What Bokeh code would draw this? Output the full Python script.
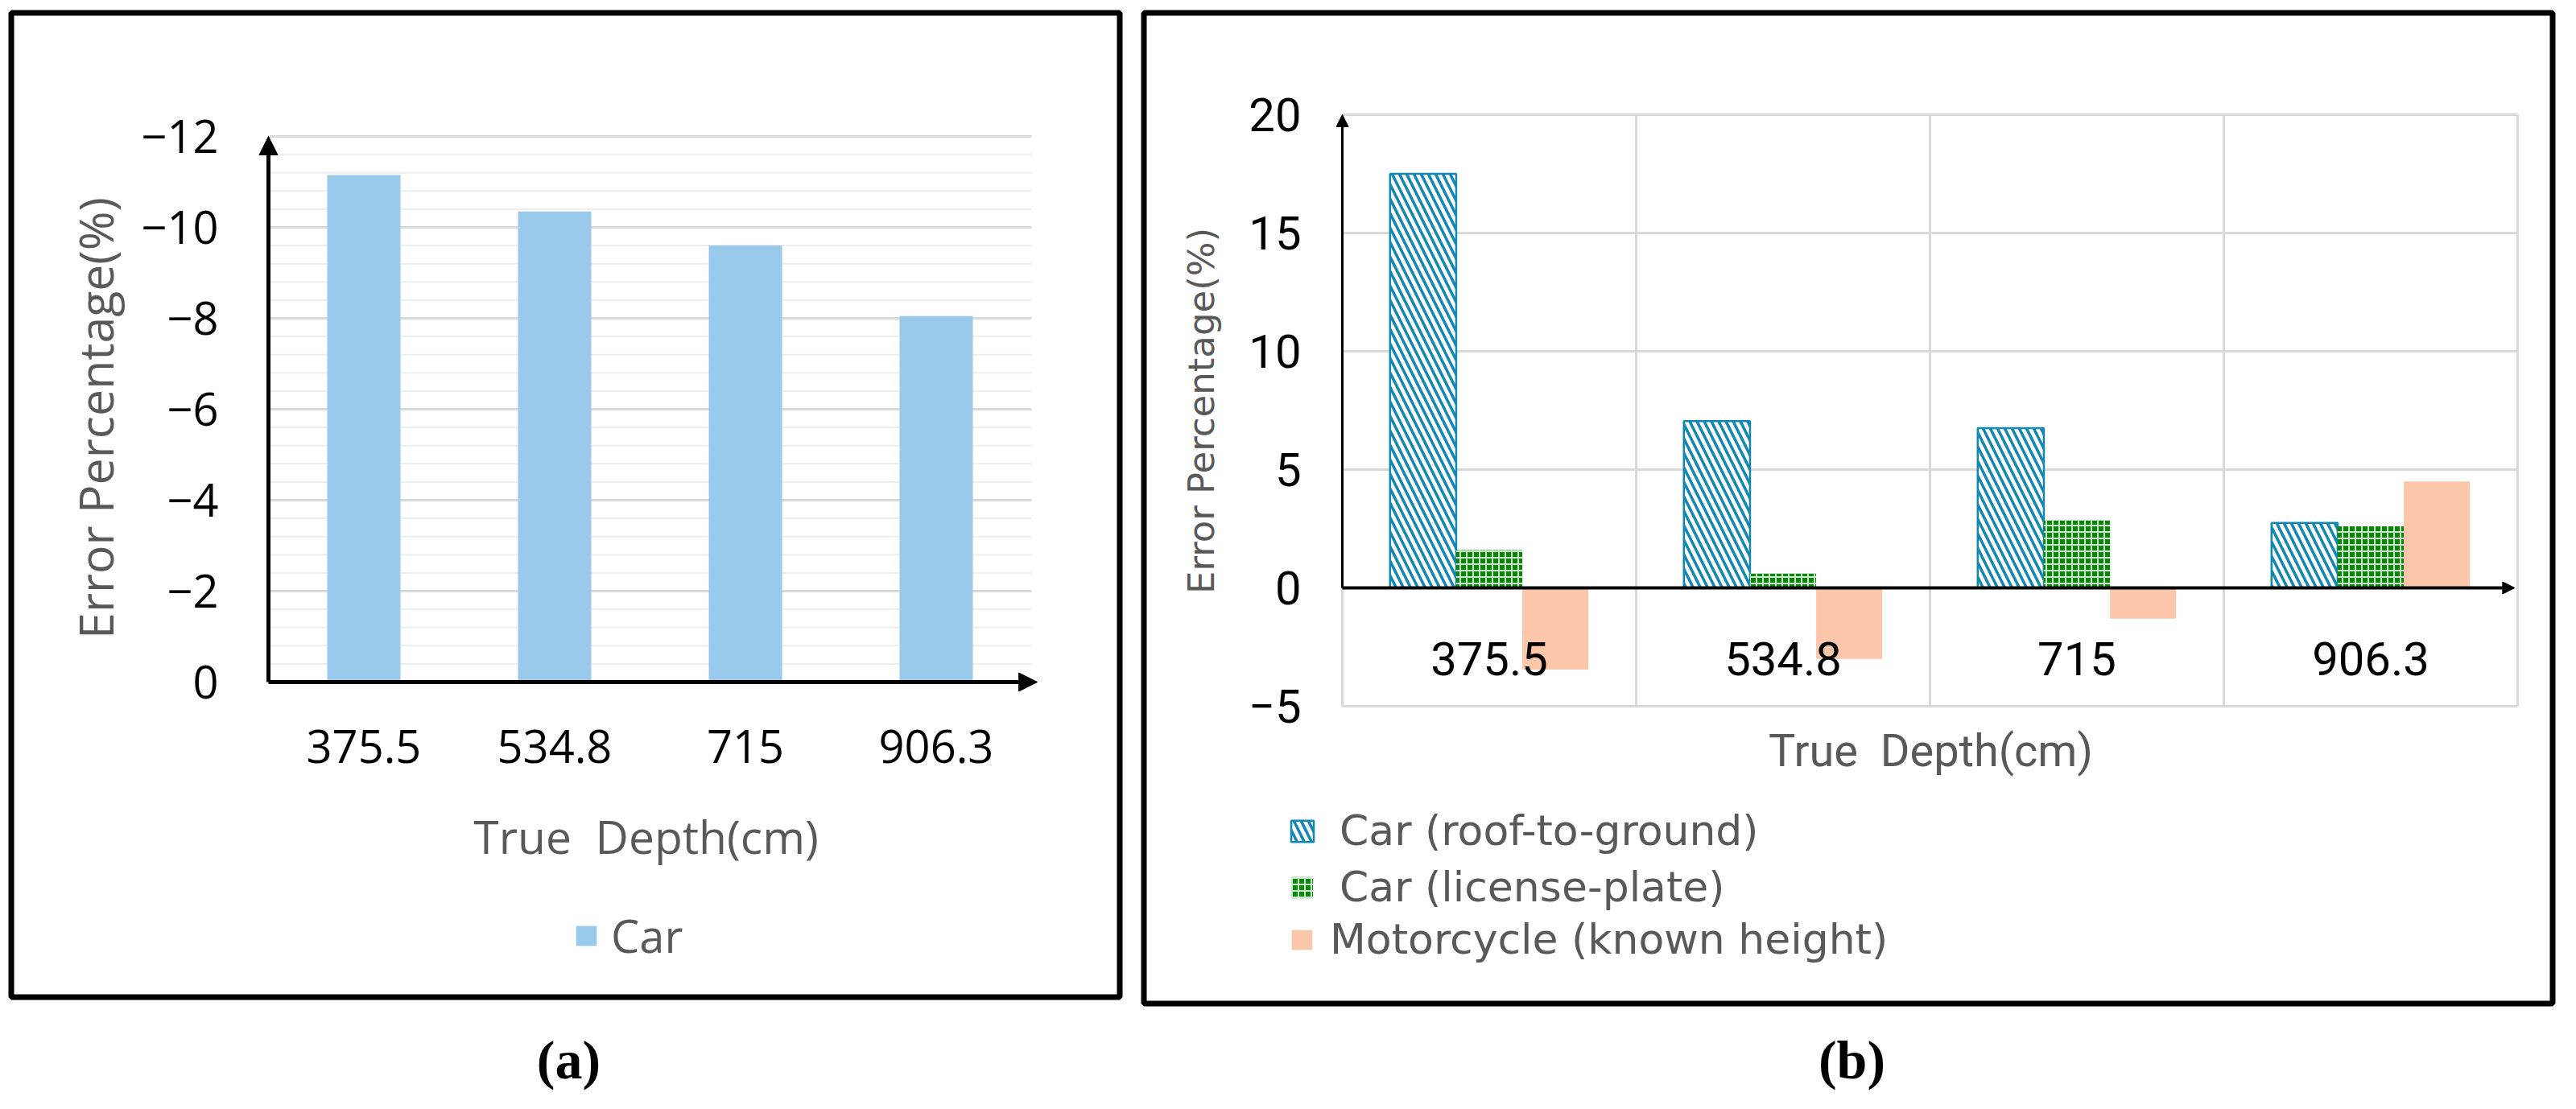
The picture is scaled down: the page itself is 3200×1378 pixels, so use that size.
import numpy as np
from bokeh.plotting import figure
from bokeh.models import (Range1d, LinearAxis, FixedTicker, Arrow, NormalHead,
                          Label, Legend, LegendItem, BoxAnnotation)
from bokeh.layouts import row
from bokeh.embed import file_html
from bokeh.resources import INLINE

# ---------------- data ----------------
depths = ["375.5", "534.8", "715", "906.3"]

# panel (a)
car_a = [-11.15, -10.35, -9.6, -8.05]
a_yticks = [0, -2, -4, -6, -8, -10, -12]

# panel (b)
roof = [17.5, 7.05, 6.75, 2.75]
plate = [1.6, 0.6, 2.85, 2.6]
moto = [-3.45, -3.0, -1.3, 4.5]
b_yticks = [-5, 0, 5, 10, 15, 20]
series_b = ["Car (roof-to-ground)", "Car (license-plate)", "Motorcycle (known height)"]

x_title = "True \u00a0Depth(cm)"
y_title = "Error Percentage(%)"

# ---------------- helpers ----------------
def minus(t):
    return ("\u2212" + str(abs(t))) if t < 0 else str(t)

FA = "Open Sans"
FB = "Roboto"
FW = "DejaVu Sans"
GRAY = "#595959"
GRID = "#D9D9D9"

xc = np.arange(len(depths)) + 0.5
n = len(depths)

TOP, BOT = 8, 1370            # page y of figure top / bottom
A_X0, A_X1 = 8, 1417          # page x of figure (a)
B_X0, B_X1 = 1417, 3192       # page x of figure (b)


def base_fig(x0, x1, xmap, ymap):
    p = figure(width=x1 - x0, height=BOT - TOP,
               x_range=Range1d(xmap(x0), xmap(x1)),
               y_range=Range1d(ymap(BOT), ymap(TOP)),
               output_backend="svg", toolbar_location=None,
               x_axis_location=None, y_axis_location=None,
               min_border_left=0, min_border_right=0,
               min_border_top=0, min_border_bottom=0)
    p.grid.visible = False
    p.outline_line_color = None
    p.background_fill_color = "white"
    p.border_fill_color = "white"
    return p


def screen_label(p, x0, px, py, text, font, size, color="black", angle=0.0,
                 style="normal"):
    p.add_layout(Label(x=px - x0, y=BOT - py, x_units="screen", y_units="screen",
                       text=text, angle=angle, text_align="center",
                       text_baseline="middle", text_font=font,
                       text_font_size=size, text_color=color,
                       text_font_style=style))


def legend_row(p, x0, renderer, label, gx, cy, gw, gh, standoff, font, size):
    h = 90
    p.add_layout(Legend(items=[LegendItem(label=label, renderers=[renderer])],
                        location=(gx - x0, BOT - (cy + h / 2)),
                        glyph_width=gw, glyph_height=gh, label_standoff=standoff,
                        label_height=h, spacing=0, padding=0, margin=0,
                        label_text_font=font, label_text_font_size=size,
                        label_text_color=GRAY, border_line_color=None,
                        background_fill_alpha=0))


def frame_box(p, xm, ym, l, r, t, b):
    p.add_layout(BoxAnnotation(left=xm(l), right=xm(r), top=ym(t), bottom=ym(b),
                               fill_color=None, fill_alpha=0,
                               line_color="black", line_alpha=1.0, line_width=7))


# ---------------- panel (a) ----------------
ax0, aband = 341.0, 237.0          # page x of category-0 edge, px per category
ay0, appu = 855.0, 56.5            # page y of value 0, px per unit (negative up)
axm = lambda px: (px - ax0) / aband
aym = lambda py: (py - ay0) / appu

pa = base_fig(A_X0, A_X1, axm, aym)
frame_box(pa, axm, aym, 21.5, 1398.5, 23.5, 1246.5)

amin = min(a_yticks)
step = abs(a_yticks[1] - a_yticks[0])
minor = [v for v in np.arange(amin, 0, step / 5.0)
         if abs(v / step - round(v / step)) > 1e-6]
pa.segment(x0=0, x1=n, y0=minor, y1=minor, line_color="#EEEEEE", line_width=2)
majors = [t for t in a_yticks if t != 0]
pa.segment(x0=0, x1=n, y0=majors, y1=majors, line_color=GRID, line_width=3)

ra = pa.vbar(x=xc, top=car_a, bottom=0, width=0.384,
             fill_color="#9ACAEB", line_color=None)

ya = LinearAxis(fixed_location=0, ticker=FixedTicker(ticks=a_yticks),
                major_label_overrides={t: minus(t) for t in a_yticks},
                axis_line_color=None, major_tick_line_color=None,
                minor_tick_line_color=None,
                major_label_text_font=FA, major_label_text_font_size="56px",
                major_label_text_color="black", major_label_standoff=56)
pa.add_layout(ya, "left")

xa = LinearAxis(fixed_location=0, ticker=FixedTicker(ticks=list(xc)),
                major_label_overrides={float(x): d for x, d in zip(xc, depths)},
                axis_line_color=None, major_tick_line_color=None,
                minor_tick_line_color=None,
                major_label_text_font=FA, major_label_text_font_size="56px",
                major_label_text_color="black", major_label_standoff=53)
pa.add_layout(xa, "below")

pa.add_layout(Arrow(end=NormalHead(size=23, fill_color="black", line_color="black"),
                    x_start=0, y_start=0, x_end=0, y_end=amin,
                    line_color="black", line_width=5))
pa.add_layout(Arrow(end=NormalHead(size=23, fill_color="black", line_color="black"),
                    x_start=0, y_start=0, x_end=n + 0.03, y_end=0,
                    line_color="black", line_width=5))

screen_label(pa, A_X0, 125, 527, y_title, FA, "59px", GRAY, np.pi / 2)
screen_label(pa, A_X0, 810, 1046, x_title, FA, "57px", GRAY)
legend_row(pa, A_X0, ra, "Car", 720, 1170, 32, 31, 15, FA, "56px")
screen_label(pa, A_X0, 714, 1324, "(a)", "Liberation Serif", "68px", style="bold")

# ---------------- panel (b) ----------------
bx0, bband = 1675.0, 365.0
by0, bppu = 738.0, 29.4
bxm = lambda px: (px - bx0) / bband
bym = lambda py: (by0 - py) / bppu

pb = base_fig(B_X0, B_X1, bxm, bym)
frame_box(pb, bxm, bym, 1428.5, 3178.5, 23.5, 1254.5)

bmin, bmax = min(b_yticks), max(b_yticks)
hlines = [t for t in b_yticks if t != 0]
pb.segment(x0=0, x1=n, y0=hlines, y1=hlines, line_color=GRID, line_width=3)
vx = list(range(1, n + 1))
pb.segment(x0=vx, x1=vx, y0=bmin, y1=bmax, line_color=GRID, line_width=3)
pb.segment(x0=[0], x1=[0], y0=bmin, y1=0, line_color=GRID, line_width=3)

w = 0.225
r1 = pb.vbar(x=xc - w, top=roof, bottom=0, width=w, fill_color="white",
             line_color="#1187B4", line_width=2.5, hatch_pattern="\\",
             hatch_color="#1187B4", hatch_scale=18, hatch_weight=3.5)
r2 = pb.vbar(x=xc, top=plate, bottom=0, width=w, fill_color="#0B850B",
             line_color=None, hatch_pattern="+", hatch_color="#CDEBCD",
             hatch_scale=8, hatch_weight=2)
r3 = pb.vbar(x=xc + w, top=moto, bottom=0, width=w, fill_color="#FBC6A9",
             line_color=None)

yb = LinearAxis(fixed_location=0, ticker=FixedTicker(ticks=b_yticks),
                major_label_overrides={t: minus(t) for t in b_yticks},
                axis_line_color=None, major_tick_line_color=None,
                minor_tick_line_color=None,
                major_label_text_font=FB, major_label_text_font_size="58px",
                major_label_text_color="black", major_label_standoff=45)
pb.add_layout(yb, "left")

xb = LinearAxis(fixed_location=0, ticker=FixedTicker(ticks=list(xc)),
                major_label_overrides={float(x): d for x, d in zip(xc, depths)},
                axis_line_color=None, major_tick_line_color=None,
                minor_tick_line_color=None,
                major_label_text_font=FB, major_label_text_font_size="58px",
                major_label_text_color="black", major_label_standoff=61)
pb.add_layout(xb, "below")

pb.add_layout(Arrow(end=NormalHead(size=15, fill_color="black", line_color="black"),
                    x_start=0, y_start=0, x_end=0, y_end=bmax,
                    line_color="black", line_width=3))
pb.add_layout(Arrow(end=NormalHead(size=15, fill_color="black", line_color="black"),
                    x_start=0, y_start=0, x_end=n - 0.01, y_end=0,
                    line_color="black", line_width=4))

screen_label(pb, B_X0, 1500, 518, y_title, FW, "45px", GRAY, np.pi / 2)
screen_label(pb, B_X0, 2406, 940, x_title, FB, "56px", GRAY)
legend_row(pb, B_X0, r1, series_b[0], 1608, 1040, 35, 33, 29, FW, "52px")
legend_row(pb, B_X0, r2, series_b[1], 1608, 1110, 34, 33, 30, FW, "52px")
legend_row(pb, B_X0, r3, series_b[2], 1609, 1175, 32, 31, 19, FW, "52px")
screen_label(pb, B_X0, 2308, 1324, "(b)", "Liberation Serif", "68px", style="bold")

layout = row(pa, pb)
open("out.html", "w").write(file_html(layout, INLINE))
